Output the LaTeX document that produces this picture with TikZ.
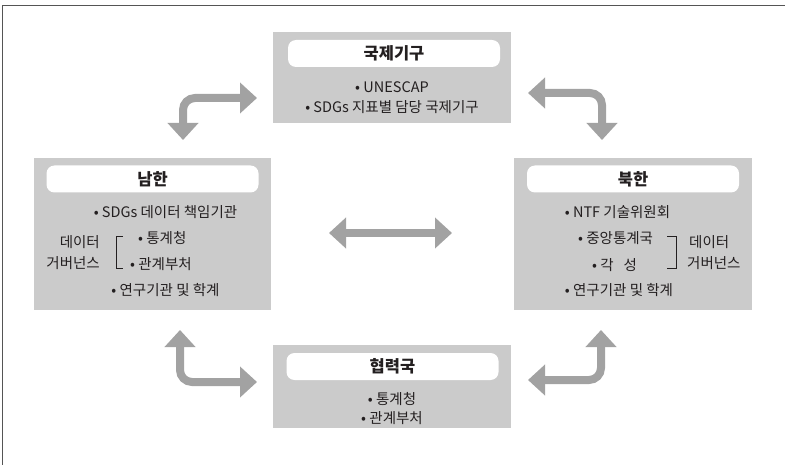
\documentclass[tikz,border=0pt]{standalone}
\usepackage{fontspec}
\setmainfont{Noto Sans CJK KR}
\usetikzlibrary{arrows.meta}
\definecolor{boxgray}{HTML}{CBCBCB}
\definecolor{arrowgray}{HTML}{A2A2A2}
\definecolor{ink}{HTML}{231F20}
\definecolor{framegray}{HTML}{555555}
\begin{document}
\begin{tikzpicture}[x=1pt,y=-1pt,
  panel/.style={fill=boxgray, draw=none, inner sep=0pt},
  titlebar/.style={fill=white, rounded corners=8pt, minimum width=212pt, minimum height=27pt,
    inner sep=0pt, font=\fontsize{16.5}{18}\selectfont\bfseries, text=ink},
  item/.style={inner sep=0pt, font=\fontsize{14.5}{16}\selectfont, text=ink},
  link/.style={draw=arrowgray, line width=8pt, rounded corners=12pt,
    {Triangle[width=30pt,length=17pt]}-{Triangle[width=30pt,length=17pt]}},
  bracket/.style={draw=ink, line width=0.6pt}]
\useasboundingbox (0,0) rectangle (785,465);

% outer frame (top and left edges)
\draw[framegray, line width=1.2pt] (2.5,465) -- (2.5,5.5) -- (785,5.5);

% panels
\node[panel, minimum width=238pt, minimum height=91pt]  (intl)  at (392,77.5) {};
\node[panel, minimum width=237pt, minimum height=152pt] (south) at (152.5,234) {};
\node[panel, minimum width=238pt, minimum height=152pt] (north) at (633,234) {};
\node[panel, minimum width=238pt, minimum height=83pt]  (coop)  at (392,386.5) {};

% title bars
\node[titlebar] (intlT)  at (394,53.5) {국제기구};
\node[titlebar] (southT) at (152.5,179) {남한};
\node[titlebar] (northT) at (633,179) {북한};
\node[titlebar] (coopT)  at (392.5,366.5) {협력국};

% international organisations
\node[item] (i1) at (392,87) {• UNESCAP};
\node[item] (i2) at (392,107) {• SDGs 지표별 담당 국제기구};

% South
\node[item] (s1) at (165.5,212) {• SDGs 데이터 책임기관};
\node[item, anchor=west] (s2) at (138,238) {• 통계청};
\node[item, anchor=west] (s3) at (130,264) {• 관계부처};
\node[item] (s4) at (165.5,290) {• 연구기관 및 학계};
\node[item, anchor=east] (sg1) at (100,242) {데이터};
\node[item, anchor=east] (sg2) at (100,263) {거버넌스};
\coordinate (sbA) at (123,236);
\coordinate (sbB) at (123,268);
\draw[bracket] (sbA) -- ++(-7,0) |- (sbB);

% North
\node[item] (n1) at (617.5,212) {• NTF 기술위원회};
\node[item, anchor=west] (n2) at (578,238) {• 중앙통계국};
\node[item, anchor=west] (n3) at (592,265) {• 각\hspace{10pt}성};
\node[item] (n4) at (619,290) {• 연구기관 및 학계};
\node[item, anchor=west] (ng1) at (689,242) {데이터};
\node[item, anchor=west] (ng2) at (687,263) {거버넌스};
\coordinate (nbA) at (667,236);
\coordinate (nbB) at (667,268);
\draw[bracket] (nbA) -- ++(9,0) |- (nbB);

% cooperating partners
\node[item] (c1) at (392,399) {• 통계청};
\node[item] (c2) at (392,418) {• 관계부처};

% arrow end points
\coordinate (tlA) at (183,140);
\coordinate (tlB) at (257,98);
\coordinate (trA) at (528,93);
\coordinate (trB) at (602,140);
\coordinate (blA) at (180,330);
\coordinate (blB) at (257,382);
\coordinate (brA) at (528,380);
\coordinate (brB) at (601,330);
\coordinate (mA) at (329,233);
\coordinate (mB) at (452,233);

% exchange arrows
\draw[link] (tlA) |- (tlB);
\draw[link] (trA) -| (trB);
\draw[link] (blA) |- (blB);
\draw[link] (brA) -| (brB);
\draw[link] (mA) -- (mB);
\end{tikzpicture}
\end{document}
